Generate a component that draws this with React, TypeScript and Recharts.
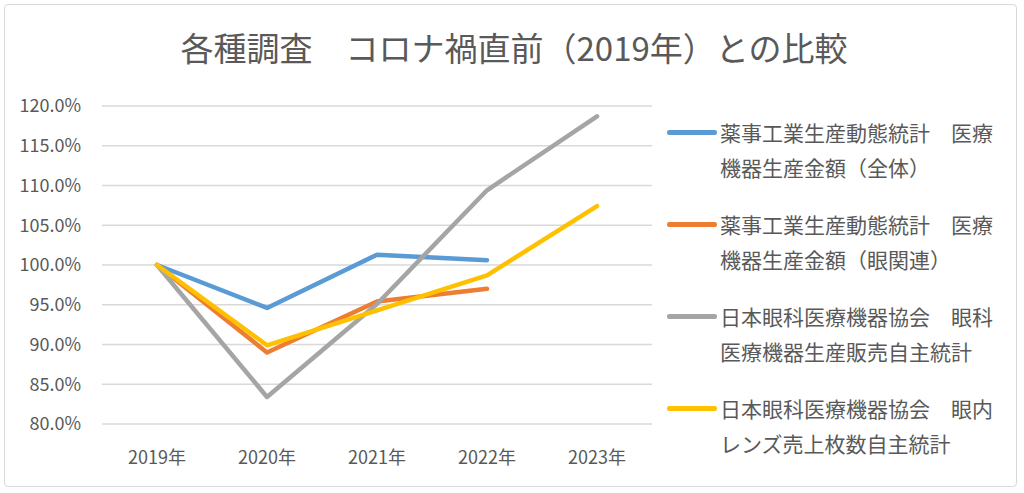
import React from 'react';
import { LineChart, Line, XAxis, YAxis, CartesianGrid, Legend } from 'recharts';

const categories = ['2019年', '2020年', '2021年', '2022年', '2023年'];
const totalValues = [100, 94.6, 101.3, 100.6, null];
const eyeValues = [100, 89.0, 95.4, 97.0, null];
const jomaValues = [100, 83.4, 95.1, 109.4, 118.7];
const iolValues = [100, 89.9, 94.3, 98.7, 107.4];
const yTicks = [80, 85, 90, 95, 100, 105, 110, 115, 120];

const seriesKeys = ['total', 'eye', 'joma', 'iol'];
const seriesColors = ['#5B9BD5', '#ED7D31', '#A5A5A5', '#FFC000'];
const legendLines = [
  ['薬事工業生産動態統計　医療', '機器生産金額（全体）'],
  ['薬事工業生産動態統計　医療', '機器生産金額（眼関連）'],
  ['日本眼科医療機器協会　眼科', '医療機器生産販売自主統計'],
  ['日本眼科医療機器協会　眼内', 'レンズ売上枚数自主統計'],
];
const title = '各種調査　コロナ禍直前（2019年）との比較';

const data = categories.map((c, i) => ({
  name: c,
  total: totalValues[i],
  eye: eyeValues[i],
  joma: jomaValues[i],
  iol: iolValues[i],
}));

const FONT = '"Noto Sans CJK JP", "Noto Sans", sans-serif';
const TEXT = '#595959';

const LegendContent = () => (
  <div style={{ position: 'relative', width: 350, height: 360, fontFamily: FONT }}>
    {legendLines.map((lines, i) => (
      <div key={i} style={{ position: 'absolute', left: 0, top: i * 92, width: 350 }}>
        <div
          style={{
            position: 'absolute',
            left: 0,
            top: 15,
            width: 50,
            height: 4.5,
            borderRadius: 2.25,
            background: seriesColors[i],
          }}
        />
        {lines.map((t, j) => (
          <div
            key={j}
            style={{
              position: 'absolute',
              left: 53,
              top: j * 35,
              fontSize: 21,
              lineHeight: '35px',
              color: TEXT,
              whiteSpace: 'nowrap',
            }}
          >
            {t}
          </div>
        ))}
      </div>
    ))}
  </div>
);

export default function App() {
  return (
    <div style={{ position: 'absolute', left: 0, top: 0, width: 1024, height: 493, background: '#fff' }}>
      <div
        style={{
          position: 'absolute',
          left: 4,
          top: 4,
          width: 1013,
          height: 483,
          border: '1px solid #d9d9d9',
          borderRadius: 4,
          boxSizing: 'border-box',
        }}
      />
      <div
        style={{
          position: 'absolute',
          left: 0,
          top: 27,
          width: 1028,
          textAlign: 'center',
          fontFamily: FONT,
          fontSize: 33,
          lineHeight: '40px',
          color: TEXT,
        }}
      >
        {title}
      </div>
      <LineChart
        width={1024}
        height={493}
        data={data}
        margin={{ top: 106, right: 372, bottom: 29, left: 0 }}
        style={{ position: 'absolute', left: 0, top: 0 }}
      >
        <CartesianGrid horizontal vertical={false} stroke="#d9d9d9" strokeWidth={1.3} />
        <XAxis
          dataKey="name"
          axisLine={false}
          tickLine={false}
          padding={{ left: 55, right: 55 }}
          height={40}
          tickMargin={21}
          tick={{ fill: TEXT, fontSize: 18, fontFamily: FONT }}
          interval={0}
        />
        <YAxis
          width={102}
          domain={[80, 120]}
          ticks={yTicks}
          axisLine={false}
          tickLine={false}
          tickMargin={15}
          tickFormatter={(v: number) => `${v.toFixed(1)}%`}
          tick={{ fill: TEXT, fontSize: 18, fontFamily: FONT }}
        />
        <Legend
          layout="vertical"
          align="center"
          verticalAlign="middle"
          wrapperStyle={{ left: 667, top: 115, width: 350 }}
          content={() => <LegendContent />}
        />
        {seriesKeys.map((k, i) => (
          <Line
            key={k}
            type="linear"
            dataKey={k}
            stroke={seriesColors[i]}
            strokeWidth={4.5}
            strokeLinecap="round"
            strokeLinejoin="round"
            dot={false}
            activeDot={false}
            isAnimationActive={false}
          />
        ))}
      </LineChart>
    </div>
  );
}
